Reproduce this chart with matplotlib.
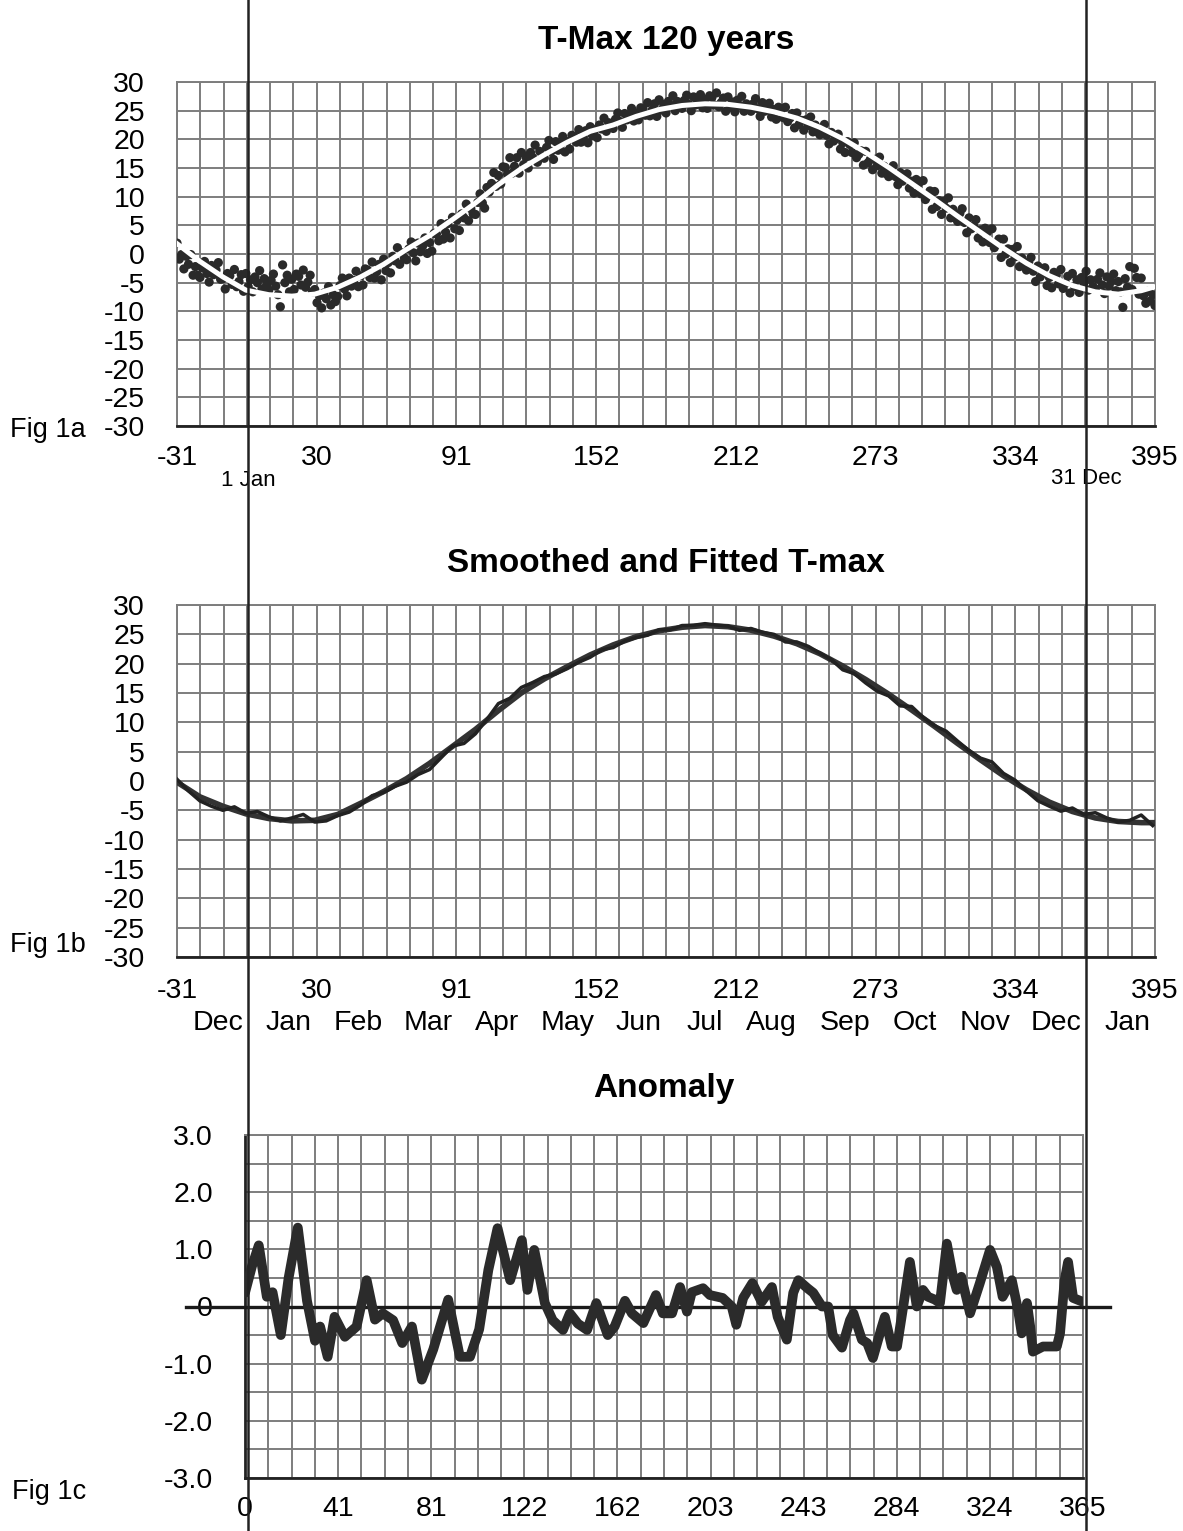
import matplotlib
matplotlib.use("Agg")
import matplotlib.pyplot as plt
import matplotlib.transforms as mtransforms
from matplotlib.lines import Line2D
import numpy as np

plt.rcParams['font.family'] = ['Liberation Sans', 'DejaVu Sans']
plt.rcParams['axes.unicode_minus'] = False

# ---- Fig 1a: daily mean T-max (day -31 .. 395) and fitted curve ----
scatter_days = np.arange(-31, 396)
scatter_tmax = [
    1.9, -0.9, -0.1, -2.6, -0.4, -1.8, -0.1, -3.7, -2.2, -3.7,
    -4.1, -2.4, -1.3, -3.4, -4.9, -2.0, -3.6, -2.8, -1.5, -4.4,
    -4.3, -6.1, -3.4, -3.8, -5.3, -2.7, -5.7, -4.8, -3.6, -6.5,
    -3.4, -5.7, -4.5, -6.6, -4.0, -5.0, -2.9, -6.1, -4.3, -5.5,
    -6.3, -4.6, -3.5, -5.6, -7.1, -9.2, -1.9, -5.0, -3.7, -6.6,
    -4.4, -6.2, -3.5, -3.9, -5.4, -2.8, -5.8, -4.9, -3.7, -6.6,
    -6.2, -8.5, -7.3, -9.4, -6.8, -7.8, -5.7, -8.9, -7.1, -8.3,
    -7.4, -5.5, -4.2, -6.1, -7.3, -4.2, -5.6, -4.6, -3.0, -5.7,
    -3.8, -5.4, -2.6, -2.8, -4.1, -1.4, -4.2, -3.1, -1.8, -4.5,
    -0.9, -2.9, -1.5, -3.3, -0.4, -1.2, 1.1, -1.8, 0.2, -0.7,
    -1.0, 0.9, 2.1, 0.2, -1.2, 1.9, 0.4, 1.4, 2.8, 0.1,
    2.0, 0.5, 3.6, 3.5, 2.3, 5.3, 2.6, 3.8, 5.3, 2.8,
    6.4, 4.4, 5.9, 4.1, 7.0, 6.3, 8.7, 5.8, 7.9, 7.0,
    6.9, 9.0, 10.5, 8.9, 8.0, 11.6, 10.8, 12.3, 14.2, 11.8,
    13.7, 12.2, 15.2, 15.1, 13.9, 16.8, 14.1, 15.3, 16.8, 14.1,
    17.7, 15.6, 16.9, 15.0, 17.7, 16.8, 19.0, 16.0, 17.9, 16.9,
    16.7, 18.6, 19.8, 17.9, 16.5, 19.6, 18.1, 19.1, 20.5, 17.8,
    19.6, 18.3, 20.7, 20.5, 19.5, 21.7, 19.5, 20.4, 21.5, 19.4,
    22.2, 20.6, 21.7, 20.3, 22.5, 21.8, 23.7, 21.4, 22.9, 22.1,
    21.9, 23.5, 24.6, 23.1, 22.1, 24.5, 23.4, 24.2, 25.4, 23.2,
    24.6, 23.4, 25.5, 25.3, 24.2, 26.4, 24.1, 25.1, 26.2, 24.0,
    26.9, 25.1, 26.1, 24.6, 26.6, 25.9, 27.6, 25.0, 26.6, 25.7,
    25.4, 26.8, 27.7, 26.1, 25.0, 27.4, 26.0, 26.8, 27.8, 25.5,
    26.9, 25.4, 27.6, 27.3, 26.0, 28.1, 25.7, 26.4, 27.2, 24.9,
    27.4, 25.6, 26.5, 24.8, 26.8, 25.9, 27.5, 24.9, 26.2, 25.2,
    24.9, 26.2, 27.1, 25.3, 24.0, 26.4, 24.9, 25.2, 26.3, 23.9,
    25.2, 23.5, 25.6, 25.1, 23.8, 25.6, 23.1, 23.7, 24.5, 22.0,
    24.6, 22.6, 23.3, 21.6, 23.4, 22.4, 23.9, 21.3, 22.5, 21.3,
    20.8, 22.0, 22.6, 20.7, 19.2, 21.2, 19.7, 20.1, 20.9, 18.3,
    19.4, 17.7, 19.6, 19.1, 17.7, 19.4, 16.8, 17.4, 18.0, 15.5,
    17.9, 15.9, 16.5, 14.7, 16.5, 15.4, 16.9, 14.1, 15.3, 14.0,
    13.5, 14.7, 15.4, 13.5, 12.1, 14.2, 12.7, 13.2, 14.0, 11.5,
    12.7, 10.6, 13.0, 12.3, 10.5, 12.8, 9.5, 10.1, 11.0, 7.8,
    10.9, 8.3, 9.3, 6.9, 9.2, 8.0, 9.8, 6.3, 7.8, 6.3,
    5.7, 7.1, 7.9, 5.5, 3.7, 6.3, 4.4, 4.9, 6.0, 2.8,
    4.2, 2.1, 4.5, 3.8, 2.0, 4.4, 1.1, 1.7, 2.6, -0.6,
    2.6, 0.0, 0.9, -1.5, 0.8, -0.5, 1.3, -2.2, -0.7, -2.1,
    -2.8, -1.4, -0.6, -3.0, -4.8, -2.1, -4.0, -3.4, -2.4, -5.5,
    -4.1, -5.9, -3.2, -3.7, -5.2, -2.7, -6.0, -5.1, -3.9, -6.8,
    -3.4, -5.7, -4.5, -6.7, -4.1, -5.1, -3.0, -6.3, -4.5, -5.7,
    -6.1, -4.4, -3.3, -5.4, -6.9, -4.0, -5.6, -4.8, -3.5, -6.4,
    -4.8, -6.6, -9.3, -4.3, -5.8, -2.2, -6.2, -2.5, -4.1, -7.0,
    -4.2, -7.3, -8.6, -6.5, -8.2, -7.1, -9.0,
]

fit_days = [-31, -21, -11, -1, 9, 19, 29, 39, 49, 59, 69, 79, 89, 99, 109,
            119, 129, 139, 149, 159, 169, 179, 189, 199, 209, 219, 229, 239,
            249, 259, 269, 279, 289, 299, 309, 319, 329, 339, 349, 359, 369,
            379, 389, 395]
fit_a = [1.8, -1.3, -4.0, -6.3, -7.1, -7.35, -7.0, -5.8, -4.0, -1.8, 0.8, 3.2,
         6.0, 8.9, 12.1, 14.9, 17.3, 19.5, 21.4, 22.5, 24.0, 25.2, 25.9, 26.2,
         26.1, 25.6, 24.8, 23.7, 22.1, 20.1, 17.7, 15.1, 12.3, 9.5, 6.6, 3.8,
         1.0, -1.6, -3.8, -5.5, -6.6, -7.0, -6.4, -5.7]

# ---- Fig 1b: fitted and smoothed T-max ----
fit_b = [-0.2, -2.7, -4.3, -5.6, -6.4, -6.8, -6.7, -5.7, -3.8, -1.8, 0.4, 3.0,
         5.9, 8.8, 12.0, 15.0, 17.4, 19.5, 21.5, 23.2, 24.6, 25.6, 26.2, 26.5,
         26.3, 25.7, 24.7, 23.4, 21.7, 19.6, 17.3, 14.8, 12.1, 9.3, 6.4, 3.6,
         0.9, -1.5, -3.6, -5.2, -6.3, -6.9, -7.1, -7.1]

smooth_days = np.arange(-31, 396, 5)
smooth_b = [0.3, -1.7, -3.4, -4.3, -5.0, -4.4, -5.5, -5.2, -6.1, -6.8,
            -6.3, -5.7, -7.0, -6.8, -5.9, -5.3, -4.1, -2.5, -1.95, -0.9,
            -0.2, 1.1, 1.95, 3.95, 5.95, 6.4, 8.05, 10.5, 13.2, 14.1,
            15.95, 16.8, 17.8, 18.26, 19.15, 20.25, 21.1, 22.35, 22.75, 23.85,
            24.45, 24.85, 25.8, 25.78, 26.5, 26.55, 26.82, 26.58, 26.4, 25.68,
            26.0, 25.35, 25.0, 23.7, 23.7, 22.95, 21.8, 20.7, 18.95, 18.3,
            16.7, 15.3, 14.5, 12.8, 12.7, 10.85, 9.44, 8.5, 6.8, 5.2,
            3.9, 3.25, 1.3, 0.16, -1.7, -3.37, -4.3, -5.15, -4.6, -5.7,
            -5.4, -6.3, -7.0, -6.7, -5.8, -7.6]

months = ['Dec', 'Jan', 'Feb', 'Mar', 'Apr', 'May', 'Jun', 'Jul', 'Aug',
          'Sep', 'Oct', 'Nov', 'Dec', 'Jan']
month_pos = [-13, 17.5, 48, 78.5, 108.5, 139, 170, 199, 228, 260, 290.5,
             321, 352, 383]

# ---- Fig 1c: anomaly (smoothed minus fit) ----
anom_days = [0, 3, 6, 9.5, 12, 15.6, 19, 23, 27, 30.5, 32.7, 36, 39, 43.5,
             48.6, 53, 56.6, 60, 64.5, 68.5, 72.7, 77, 82, 88.5, 93.6, 98,
             102, 106, 110, 115.5, 120.6, 123, 126, 130.6, 134, 138.5, 141.5,
             145, 149, 153, 158, 161, 165.5, 168.5, 173.5, 179, 182, 186,
             189.5, 192.5, 194.6, 199.5, 202.5, 208, 212, 214, 217, 221, 225,
             229.5, 232, 236, 238.8, 241, 245, 247.5, 251.3, 254, 256, 260,
             263.5, 265, 268.7, 271, 273.5, 277.4, 278.7, 281.7, 284, 286.7,
             289.6, 292.6, 295.3, 297.5, 300.5, 302.7, 305.7, 308.4, 310, 312,
             315.8, 320, 324.5, 327.5, 330, 334, 336.7, 338.3, 340.6, 342,
             343.2, 347.6, 353.6, 355, 357, 358.5, 360.7, 365]
anom_vals = [0.24, 0.7, 1.07, 0.17, 0.25, -0.5, 0.5, 1.38, 0.1, -0.6, -0.35,
             -0.88, -0.18, -0.53, -0.35, 0.46, -0.23, -0.12, -0.24, -0.64,
             -0.35, -1.28, -0.75, 0.12, -0.88, -0.88, -0.4, 0.64, 1.37, 0.46,
             1.16, 0.29, 0.99, 0.06, -0.24, -0.41, -0.12, -0.3, -0.41, 0.06,
             -0.5, -0.35, 0.1, -0.12, -0.29, 0.2, -0.12, -0.12, 0.34, -0.09,
             0.25, 0.32, 0.2, 0.15, 0.0, -0.32, 0.15, 0.41, 0.08, 0.34, -0.18,
             -0.58, 0.24, 0.46, 0.32, 0.24, 0.0, 0.0, -0.5, -0.72, -0.24,
             -0.12, -0.58, -0.64, -0.9, -0.35, -0.18, -0.7, -0.7, 0.0, 0.78,
             0.0, 0.29, 0.17, 0.12, 0.06, 1.1, 0.52, 0.29, 0.52, -0.12, 0.4,
             0.99, 0.69, 0.17, 0.46, -0.06, -0.47, 0.06, -0.35, -0.79, -0.7,
             -0.7, -0.47, 0.46, 0.78, 0.15, 0.08]

W, H = 1183, 1531
fig = plt.figure(figsize=(W / 100, H / 100), dpi=100)

def px_axes(left, top, right, bottom):
    return fig.add_axes([left / W, 1 - bottom / H, (right - left) / W, (bottom - top) / H])

ax1 = px_axes(177, 82, 1155, 426)
ax2 = px_axes(177, 605, 1155, 957)
ax3 = px_axes(245, 1135, 1083, 1478)

tick_fs = 20.5
grid_c = '#7d7d7d'
for ax in (ax1, ax2, ax3):
    ax.set_axisbelow(True)
    ax.grid(True, which='both', color=grid_c, linewidth=1.4)
    ax.tick_params(which='both', length=0, labelsize=tick_fs)
    for s in ('top', 'right', 'left'):
        ax.spines[s].set_color(grid_c)
        ax.spines[s].set_linewidth(1.4)
    ax.spines['bottom'].set_color('#222222')
    ax.spines['bottom'].set_linewidth(2)

xmaj = np.linspace(-31, 395, 8)
for ax in (ax1, ax2):
    ax.set_xlim(-31, 395)
    ax.set_ylim(-30, 30)
    ax.set_xticks(xmaj)
    ax.set_xticklabels([str(int(round(v))) for v in xmaj])
    ax.set_xticks(np.linspace(-31, 395, 43), minor=True)
    ax.set_yticks(np.arange(-30, 31, 5))
    ax.tick_params(axis='y', pad=23)

ax1.tick_params(axis='x', pad=13.5)
ax2.tick_params(axis='x', pad=15)

# 1a
ax1.scatter(scatter_days, scatter_tmax, s=44, color='#2a2a2a', edgecolors='none', zorder=3)
ax1.plot(fit_days, fit_a, color='white', linewidth=3.6, zorder=4)
ax1.set_title('T-Max 120 years', fontsize=24, fontweight='bold', pad=24)
lbl = mtransforms.blended_transform_factory(ax1.transData, ax1.transAxes)
ax1.text(0, -0.157, '1 Jan', transform=lbl, ha='center', va='center', fontsize=16)
ax1.text(365, -0.153, '31 Dec', transform=lbl, ha='center', va='center', fontsize=16)

# 1b
ax2.plot(fit_days, fit_b, color='#333333', linewidth=4, zorder=3)
ax2.plot(smooth_days, smooth_b, color='#222222', linewidth=2.5, zorder=4)
ax2.set_title('Smoothed and Fitted T-max', fontsize=24, fontweight='bold', pad=24)
mlbl = mtransforms.blended_transform_factory(ax2.transData, ax2.transAxes)
for m, p in zip(months, month_pos):
    ax2.text(p, -0.1875, m, transform=mlbl, ha='center', va='center', fontsize=tick_fs)

# 1c
ax3.set_xlim(0, 365)
ax3.set_ylim(-3, 3)
x3 = np.linspace(0, 365, 10)
ax3.set_xticks(x3)
ax3.set_xticklabels([str(int(round(v))) for v in x3])
ax3.set_xticks(np.linspace(0, 365, 37), minor=True)
ax3.set_yticks([-3, -2, -1, 0, 1, 2, 3])
ax3.set_yticklabels(['-3.0', '-2.0', '-1.0', '0', '1.0', '2.0', '3.0'])
ax3.set_yticks(np.arange(-3, 3.01, 0.5), minor=True)
ax3.tick_params(axis='y', pad=23)
ax3.tick_params(axis='x', pad=13)
ax3.spines['left'].set_color('#222222')
ax3.spines['left'].set_linewidth(2)
ax3.axhline(0, xmin=-0.07, xmax=1.032, color='#1a1a1a', linewidth=2.4, clip_on=False, zorder=3)
ax3.plot(anom_days, anom_vals, color='#2b2b2b', linewidth=7, solid_joinstyle='round',
         solid_capstyle='round', zorder=4)
ax3.set_title('Anomaly', fontsize=24, fontweight='bold', pad=27)

# Fig labels
fig.text(10 / W, 1 - 430 / H, 'Fig 1a', fontsize=19.5, va='center')
fig.text(10 / W, 1 - 945 / H, 'Fig 1b', fontsize=19.5, va='center')
fig.text(12 / W, 1 - 1492 / H, 'Fig 1c', fontsize=19.5, va='center')

# long vertical markers at 1 Jan and 31 Dec
inv = fig.transFigure.inverted()
for d in (0, 365):
    xf = inv.transform(ax1.transData.transform((d, 0)))[0]
    fig.add_artist(Line2D([xf, xf], [0, 1], transform=fig.transFigure,
                          color='#222222', linewidth=1.8, zorder=10))

fig.savefig('out.png', dpi=100)
